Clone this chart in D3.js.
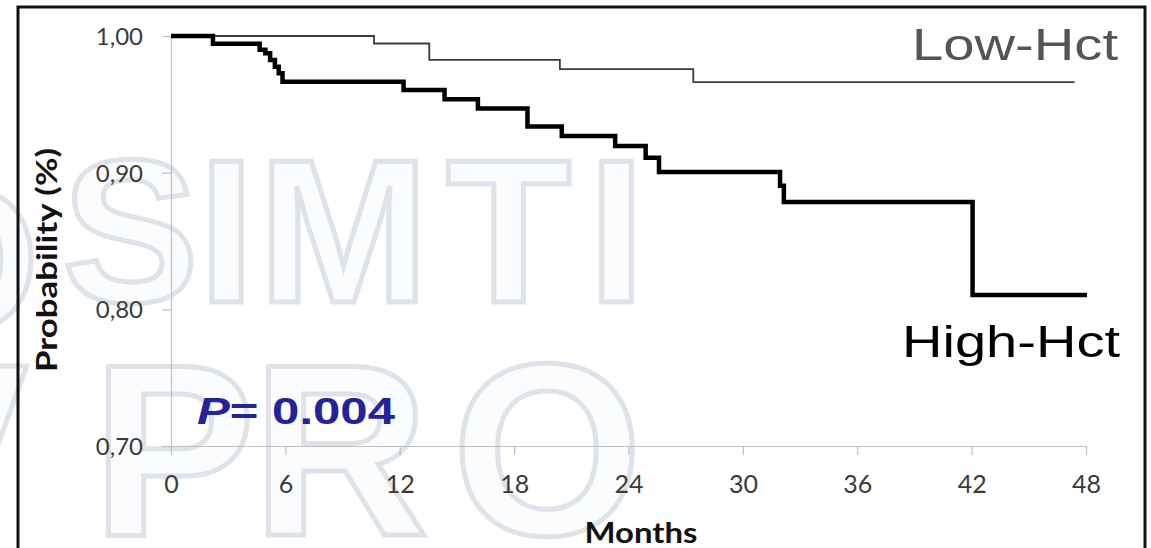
<!DOCTYPE html>
<html>
<head>
<meta charset="utf-8">
<script src="https://cdn.jsdelivr.net/npm/d3@7"></script>
<style>
  html, body { margin: 0; padding: 0; background: #ffffff; }
  svg { display: block; }
</style>
</head>
<body>
<svg id="chart" width="1151" height="548"></svg>
<script>
// Kaplan–Meier style survival estimates by haematocrit group
const lowMonths  = [0, 10.65, 13.55, 20.4, 27.4, 47.4];
const lowSurv    = [1.0, 0.9945, 0.9825, 0.9757, 0.9663, 0.9663];

const highMonths = [0, 2.2, 4.65, 4.95, 5.2, 5.45, 5.65, 5.85, 12.2, 14.35, 16.1, 18.7, 20.5, 23.3, 24.9, 25.6, 31.95, 32.15, 42.05, 48.05];
const highSurv   = [1.0, 0.9944, 0.990, 0.9873, 0.9824, 0.9775, 0.9727, 0.9666, 0.9605, 0.9537, 0.947, 0.9337, 0.9268, 0.9195, 0.911, 0.9005, 0.8905, 0.8785, 0.8105, 0.8105];

const xTicks = [0, 6, 12, 18, 24, 30, 36, 42, 48];
const yTicks = [0.70, 0.80, 0.90, 1.00];

const svg = d3.select("#chart");
const W = 1151, H = 548;

// faint outlined lettering behind the plot
const wm = svg.append("g")
  .attr("font-family", "'Liberation Sans', Arial, sans-serif")
  .attr("font-weight", "bold")
  .attr("fill", "#fbfcfd")
  .attr("stroke", "#dde3e9")
  .attr("stroke-width", 5);
[
  {t: "O", x: -120, y: 330, s: 205},
  {t: "S", x: 62, y: 302, s: 205},
  {t: "I", x: 198, y: 302, s: 205},
  {t: "M", x: 258, y: 302, s: 205},
  {t: "T", x: 446, y: 302, s: 205},
  {t: "I", x: 588, y: 302, s: 205},
  {t: "V", x: -135, y: 535, s: 245},
  {t: "P", x: 92, y: 535, s: 245},
  {t: "R", x: 252, y: 535, s: 245},
  {t: "O", x: 452, y: 535, s: 245}
].forEach(d => wm.append("text").attr("x", d.x).attr("y", d.y).attr("font-size", d.s).text(d.t));

const x = d3.scaleLinear().domain([0, 48]).range([171, 1086]);
const y = d3.scaleLinear().domain([0.70, 1.00]).range([446, 36]);

// axes
const axisColor = "#bfbfbf";
const labelColor = "#3a3a3a";

const gy = svg.append("g")
  .attr("transform", `translate(${x(0)},0)`)
  .call(d3.axisLeft(y).tickValues(yTicks).tickSize(9).tickSizeOuter(0).tickPadding(19)
    .tickFormat(d => d.toFixed(2).replace(".", ",")));
gy.select(".domain").attr("stroke", axisColor).attr("stroke-width", 1.2);
gy.selectAll(".tick line").attr("stroke", axisColor).attr("stroke-width", 1.2);
gy.selectAll(".tick text")
  .attr("font-family", "Lato, 'Open Sans', sans-serif")
  .attr("font-size", 24).attr("fill", labelColor).attr("dy", "0.36em");

const gx = svg.append("g")
  .attr("transform", `translate(0,${y(0.70)})`)
  .call(d3.axisBottom(x).tickValues(xTicks).tickSize(9).tickSizeOuter(0).tickPadding(12));
gx.select(".domain").attr("stroke", axisColor).attr("stroke-width", 1.2);
gx.selectAll(".tick line").attr("stroke", axisColor).attr("stroke-width", 1.2);
gx.selectAll(".tick text")
  .attr("font-family", "Lato, 'Open Sans', sans-serif")
  .attr("font-size", 25).attr("fill", labelColor)
  .attr("y", 47).attr("dy", null);

// survival curves
const step = d3.line().x(d => x(d[0])).y(d => y(d[1])).curve(d3.curveStepAfter);

svg.append("path")
  .datum(d3.zip(lowMonths, lowSurv))
  .attr("d", step)
  .attr("fill", "none").attr("stroke", "#3c3c3c").attr("stroke-width", 1.8);

svg.append("path")
  .datum(d3.zip(highMonths, highSurv))
  .attr("d", step)
  .attr("fill", "none").attr("stroke", "#000").attr("stroke-width", 4.5)
  .attr("stroke-linejoin", "miter");

// group labels
svg.append("text").attr("x", 912).attr("y", 60)
  .attr("font-family", "'Liberation Sans', Arial, sans-serif").attr("font-size", 44)
  .attr("fill", "#555").attr("textLength", 206).attr("lengthAdjust", "spacingAndGlyphs")
  .text("Low-Hct");

svg.append("text").attr("x", 902).attr("y", 357)
  .attr("font-family", "'Liberation Sans', Arial, sans-serif").attr("font-size", 44)
  .attr("fill", "#000").attr("textLength", 218).attr("lengthAdjust", "spacingAndGlyphs")
  .text("High-Hct");

// p-value
const pv = svg.append("text").attr("x", 197).attr("y", 424)
  .attr("font-family", "'Liberation Sans', Arial, sans-serif").attr("font-size", 37)
  .attr("font-weight", "bold").attr("fill", "#23239b")
  .attr("textLength", 198).attr("lengthAdjust", "spacingAndGlyphs");
pv.append("tspan").attr("font-style", "italic").text("P");
pv.append("tspan").text("= 0.004");

// axis titles
svg.append("text")
  .attr("transform", `translate(57,${260}) rotate(-90)`)
  .attr("text-anchor", "middle")
  .attr("font-family", "Lato, 'Open Sans', sans-serif").attr("font-weight", "bold")
  .attr("font-size", 28).attr("fill", "#111")
  .attr("textLength", 224).attr("lengthAdjust", "spacingAndGlyphs")
  .text("Probability (%)");

svg.append("text")
  .attr("x", 641).attr("y", 543).attr("text-anchor", "middle")
  .attr("font-family", "Lato, 'Open Sans', sans-serif").attr("font-weight", "bold")
  .attr("font-size", 29).attr("fill", "#111")
  .attr("textLength", 113).attr("lengthAdjust", "spacingAndGlyphs")
  .text("Months");

// outer frame, open at the bottom
svg.append("path")
  .attr("d", `M18,${H} V7 H1145 V${H}`)
  .attr("fill", "none").attr("stroke", "#111").attr("stroke-width", 3);
</script>
</body>
</html>
